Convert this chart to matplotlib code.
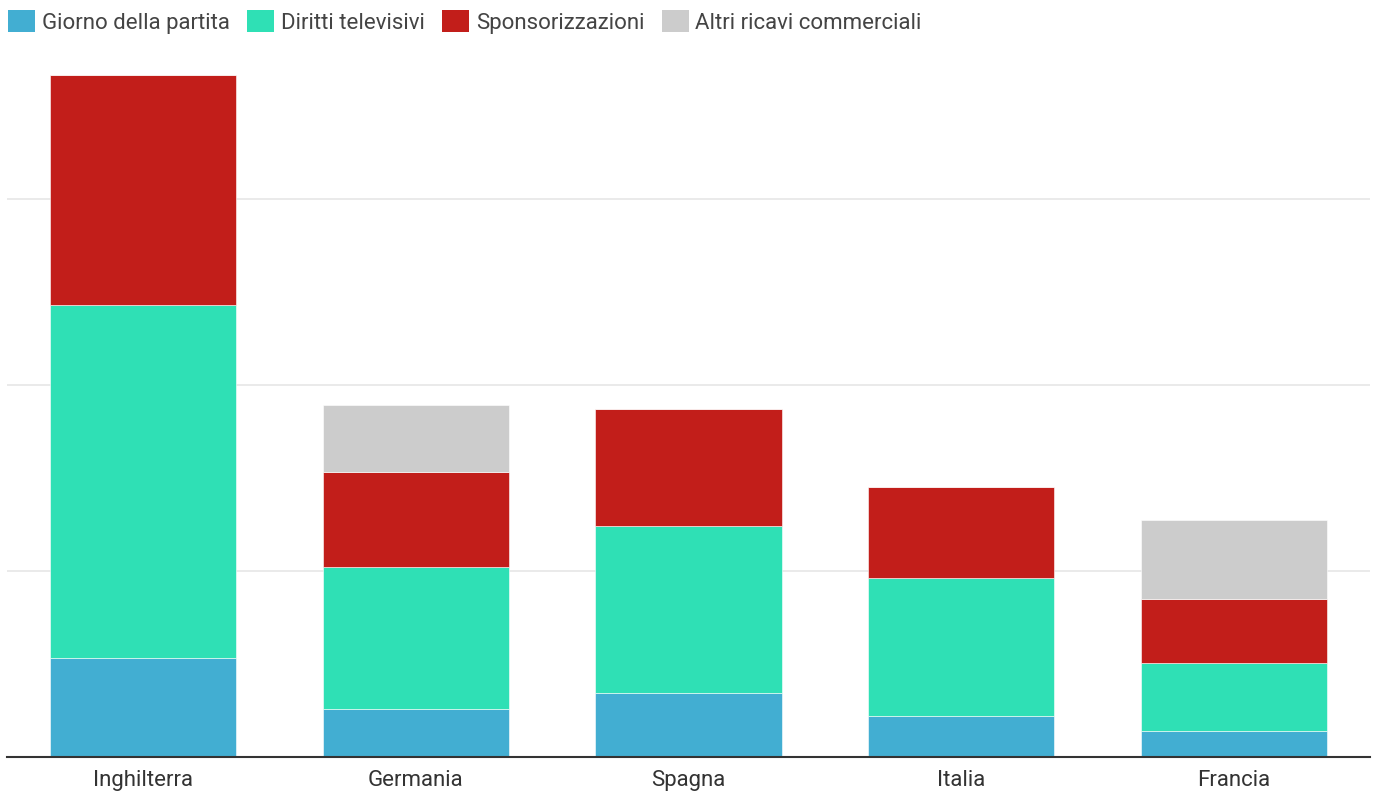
import numpy as np
import matplotlib.pyplot as plt
from matplotlib.patches import Patch

plt.rcParams['font.family'] = ['Roboto', 'DejaVu Sans']

# Dati
paesi = ['Inghilterra', 'Germania', 'Spagna', 'Italia', 'Francia']
giorno_partita = [532, 258, 344, 220, 140]
diritti_tv = [1898, 764, 898, 742, 365]
sponsorizzazioni = [1237, 510, 629, 490, 344]
altri_ricavi = [0, 360, 0, 0, 425]

serie = ['Giorno della partita', 'Diritti televisivi', 'Sponsorizzazioni', 'Altri ricavi commerciali']
colori = ['#42AED2', '#2FE0B5', '#C21E1A', '#CCCCCC']

W, H = 1375, 791
fig = plt.figure(figsize=(W / 100, H / 100), dpi=100)
ax = fig.add_axes([7 / W, (H - 757) / H, (1370 - 7) / W, (757 - 60) / H])

x = np.arange(len(paesi))
bottom = np.zeros(len(paesi))
for nome, valori, col in zip(serie, [giorno_partita, diritti_tv, sponsorizzazioni, altri_ricavi], colori):
    v = np.array(valori, dtype=float)
    ax.bar(x, v, bottom=bottom, width=0.683, color=col, edgecolor='white',
           linewidth=0.4, zorder=2)
    bottom += v

ax.set_xlim(-0.5, len(paesi) - 0.5)
ax.set_ylim(0, 697 / 186 * 1000)
ax.set_yticks([1000, 2000, 3000])
ax.yaxis.grid(True, color='#E6E6E6', linewidth=1.2, zorder=0)
ax.tick_params(axis='y', left=False, labelleft=False)
ax.tick_params(axis='x', length=0, pad=9.5, labelsize=16, labelcolor='#333333')
ax.set_xticks(x)
ax.set_xticklabels(paesi)
for s in ['top', 'right', 'left']:
    ax.spines[s].set_visible(False)
ax.spines['bottom'].set_color('#333333')
ax.spines['bottom'].set_linewidth(1.5)
ax.spines['bottom'].set_zorder(3)

handles = [Patch(facecolor=c, edgecolor='none') for c in colori]
leg = fig.legend(handles, serie, loc='upper left', bbox_to_anchor=(4 / W, 1 - 6 / H),
                 ncol=4, frameon=False, fontsize=16, handlelength=1.2,
                 handleheight=1.1, handletextpad=0.3, columnspacing=0.8,
                 borderpad=0.2, borderaxespad=0)
for t in leg.get_texts():
    t.set_color('#444444')

fig.savefig('out.png', dpi=100)
